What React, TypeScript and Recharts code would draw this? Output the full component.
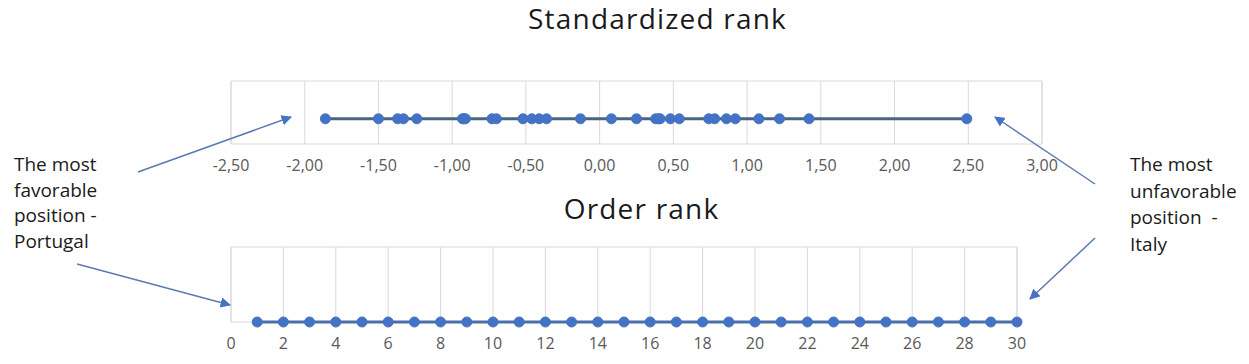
import React from "react";
import {
  LineChart,
  Line,
  XAxis,
  YAxis,
  CartesianGrid,
  ReferenceArea,
} from "recharts";

// Standardized rank values (30 countries), sorted ascending
const standardizedValues = [
  -1.86, -1.5, -1.37, -1.33, -1.24, -0.93, -0.92, -0.91, -0.73, -0.7, -0.52,
  -0.46, -0.41, -0.36, -0.13, 0.08, 0.25, 0.38, 0.4, 0.41, 0.48, 0.54, 0.74,
  0.78, 0.86, 0.92, 1.08, 1.22, 1.42, 2.49,
];
const standardizedTicks = [-2.5, -2, -1.5, -1, -0.5, 0, 0.5, 1, 1.5, 2, 2.5, 3];

// Order rank values 1..30
const orderValues = [
  1, 2, 3, 4, 5, 6, 7, 8, 9, 10, 11, 12, 13, 14, 15, 16, 17, 18, 19, 20, 21, 22,
  23, 24, 25, 26, 27, 28, 29, 30,
];
const orderTicks = [0, 2, 4, 6, 8, 10, 12, 14, 16, 18, 20, 22, 24, 26, 28, 30];

const topLevel = 1; // y position of top series
const bottomLevel = 0; // y position of bottom series

const topData = standardizedValues.map((v) => ({ x: v, y: topLevel }));
const bottomData = orderValues.map((v) => ({ x: v, y: bottomLevel }));

const FONT = "'Open Sans', 'Noto Sans', sans-serif";
const MARKER = "#4472C4";
const GRID = "#D9D9D9";

const fmtComma = (v: number) => v.toFixed(2).replace(".", ",");

const titleStyle: React.CSSProperties = {
  position: "absolute",
  left: 0,
  width: 1249,
  textAlign: "center",
  boxSizing: "border-box",
  fontSize: 28,
  letterSpacing: 1.2,
  lineHeight: "36px",
  color: "#1a1a1a",
};

export default function App() {
  return (
    <div
      style={{
        position: "absolute",
        left: 0,
        top: 0,
        width: 1249,
        height: 364,
        background: "#fff",
        fontFamily: FONT,
        overflow: "hidden",
      }}
    >
      <div style={{ ...titleStyle, top: 0, paddingLeft: 66 }}>
        Standardized rank
      </div>
      <div style={{ ...titleStyle, top: 190, paddingLeft: 34 }}>Order rank</div>

      {/* top chart */}
      <div style={{ position: "absolute", left: 0, top: 0 }}>
        <LineChart
          width={1249}
          height={200}
          data={topData}
          margin={{ top: 81, right: 207, left: 231, bottom: 26 }}
        >
          <CartesianGrid stroke={GRID} horizontal={false} />
          <ReferenceArea
            x1={-2.5}
            x2={3}
            y1={0}
            y2={2.5}
            fill="none"
            stroke={GRID}
          />
          <XAxis
            type="number"
            dataKey="x"
            domain={[-2.5, 3]}
            ticks={standardizedTicks}
            tickFormatter={fmtComma}
            axisLine={false}
            tickLine={false}
            tickMargin={10}
            height={30}
            interval={0}
            tick={{ fontSize: 16, fill: "#595959", fontFamily: FONT }}
          />
          <YAxis hide domain={[0, 2.5]} />
          <Line
            dataKey="y"
            stroke="#4A6481"
            strokeWidth={3}
            dot={{ r: 5, fill: MARKER, stroke: MARKER, strokeWidth: 1 }}
            isAnimationActive={false}
          />
        </LineChart>
      </div>

      {/* bottom chart */}
      <div style={{ position: "absolute", left: 0, top: 164 }}>
        <LineChart
          width={1249}
          height={200}
          data={bottomData}
          margin={{ top: 83, right: 232, left: 231, bottom: 8 }}
        >
          <CartesianGrid stroke={GRID} horizontal={false} />
          <ReferenceArea
            x1={0}
            x2={30}
            y1={0}
            y2={1}
            fill="none"
            stroke={GRID}
          />
          <XAxis
            type="number"
            dataKey="x"
            domain={[0, 30]}
            ticks={orderTicks}
            axisLine={false}
            tickLine={false}
            tickMargin={10}
            height={34}
            interval={0}
            tick={{ fontSize: 16, fill: "#595959", fontFamily: FONT }}
          />
          <YAxis hide domain={[0, 1]} />
          <Line
            dataKey="y"
            stroke="#4A6FA8"
            strokeWidth={3}
            dot={{ r: 5, fill: MARKER, stroke: MARKER, strokeWidth: 1 }}
            isAnimationActive={false}
          />
        </LineChart>
      </div>

      {/* annotations */}
      <div
        style={{
          position: "absolute",
          left: 14,
          top: 152,
          fontSize: 19,
          lineHeight: "25.7px",
          color: "#1a1a1a",
          whiteSpace: "pre",
        }}
      >
        {"The most\nfavorable\nposition -\nPortugal"}
      </div>
      <div
        style={{
          position: "absolute",
          left: 1130,
          top: 151,
          fontSize: 19,
          lineHeight: "26.5px",
          color: "#1a1a1a",
          whiteSpace: "pre",
        }}
      >
        {"The most\nunfavorable\nposition  -\nItaly"}
      </div>
      <svg
        width={1249}
        height={364}
        style={{ position: "absolute", left: 0, top: 0, pointerEvents: "none" }}
      >
        <defs>
          <marker
            id="arr"
            viewBox="0 0 10 10"
            refX="9"
            refY="5"
            markerWidth="7"
            markerHeight="7"
            orient="auto"
          >
            <path d="M0,0 L10,5 L0,10 z" fill="#4472C4" />
          </marker>
        </defs>
        <g stroke="#5B7BAE" strokeWidth={1.5} markerEnd="url(#arr)">
          <line x1={138} y1={172} x2={291} y2={117} />
          <line x1={77} y1={264} x2={230} y2={305} />
          <line x1={1095} y1={184} x2={995} y2={117} />
          <line x1={1095} y1={238} x2={1030} y2={299} />
        </g>
      </svg>
    </div>
  );
}
